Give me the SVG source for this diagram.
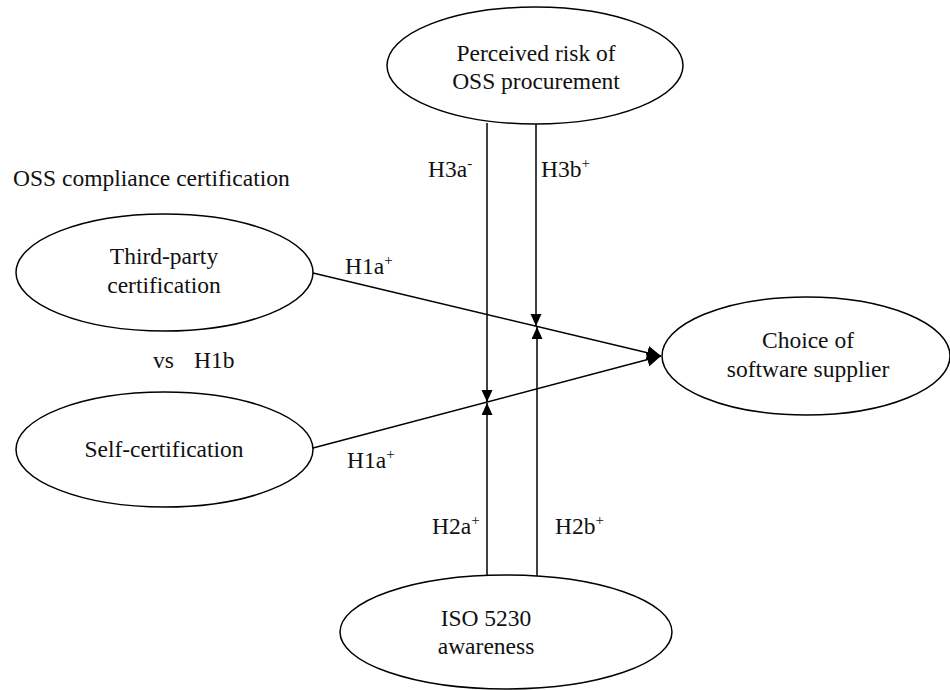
<svg xmlns="http://www.w3.org/2000/svg" width="950" height="690" viewBox="0 0 950 690" font-family="'Liberation Serif', 'DejaVu Serif', serif">
  <style>
    .node ellipse { fill: #ffffff; stroke: #000000; stroke-width: 1.5; }
    text { font-family: "Liberation Serif", "DejaVu Serif", serif; font-size: 23.5px; fill: #111111; }
    .c { text-anchor: middle; }
    .sup { font-size: 15px; }
    .edge { fill: none; stroke: #000000; stroke-width: 1.5; }
  </style>
  <defs>
    <marker id="head" markerUnits="userSpaceOnUse" markerWidth="16" markerHeight="14" refX="14" refY="7" orient="auto">
      <path d="M0,0 L14,7 L0,14 Z" fill="#000000"/>
    </marker>
    <marker id="tick" markerUnits="userSpaceOnUse" markerWidth="13" markerHeight="12" refX="12" refY="5.5" orient="auto">
      <path d="M0,0 L12,5.5 L0,11 Z" fill="#000000"/>
    </marker>
  </defs>

  <rect width="950" height="690" fill="#ffffff"/>

  <!-- connectors -->
  <g id="edges">
    <!-- certification paths into supplier choice -->
    <line class="edge" x1="313" y1="273" x2="661" y2="356" marker-end="url(#head)"/>
    <line class="edge" x1="313" y1="448" x2="661" y2="356" marker-end="url(#head)"/>
    <!-- moderators from perceived risk -->
    <line class="edge" x1="487" y1="123" x2="487" y2="402" marker-end="url(#tick)"/>
    <line class="edge" x1="536" y1="124" x2="536" y2="326" marker-end="url(#tick)"/>
    <!-- moderators from ISO 5230 awareness -->
    <line class="edge" x1="487" y1="576" x2="487" y2="403" marker-end="url(#tick)"/>
    <line class="edge" x1="537" y1="577" x2="537" y2="327" marker-end="url(#tick)"/>
  </g>

  <!-- path labels -->
  <g id="labels">
    <text x="13" y="186">OSS compliance certification</text>
    <text x="153" y="368">vs</text>
    <text x="194" y="368">H1b</text>
    <text x="345" y="274">H1a<tspan class="sup" dy="-9">+</tspan></text>
    <text x="347" y="468">H1a<tspan class="sup" dy="-9">+</tspan></text>
    <text x="428" y="177">H3a<tspan class="sup" dy="-9">-</tspan></text>
    <text x="541" y="177">H3b<tspan class="sup" dy="-9">+</tspan></text>
    <text x="432" y="534">H2a<tspan class="sup" dy="-9">+</tspan></text>
    <text x="555" y="534">H2b<tspan class="sup" dy="-9">+</tspan></text>
  </g>

  <g id="risk" class="node">
    <ellipse cx="535" cy="65.5" rx="148" ry="58.5"/>
    <text class="c" x="536" y="61">Perceived risk of</text>
    <text class="c" x="536" y="89">OSS procurement</text>
  </g>

  <g id="third-party" class="node">
    <ellipse cx="164.5" cy="272.5" rx="148.5" ry="58.5"/>
    <text class="c" x="164" y="264">Third-party</text>
    <text class="c" x="164" y="293">certification</text>
  </g>

  <g id="self" class="node">
    <ellipse cx="164.5" cy="449.5" rx="148.5" ry="57.5"/>
    <text class="c" x="164" y="457">Self-certification</text>
  </g>

  <g id="choice" class="node">
    <ellipse cx="806" cy="356" rx="144" ry="59"/>
    <text class="c" x="808" y="348">Choice of</text>
    <text class="c" x="808" y="377">software supplier</text>
  </g>

  <g id="iso" class="node">
    <ellipse cx="506" cy="632" rx="166" ry="57"/>
    <text class="c" x="486" y="626">ISO 5230</text>
    <text class="c" x="486" y="654">awareness</text>
  </g>
</svg>
